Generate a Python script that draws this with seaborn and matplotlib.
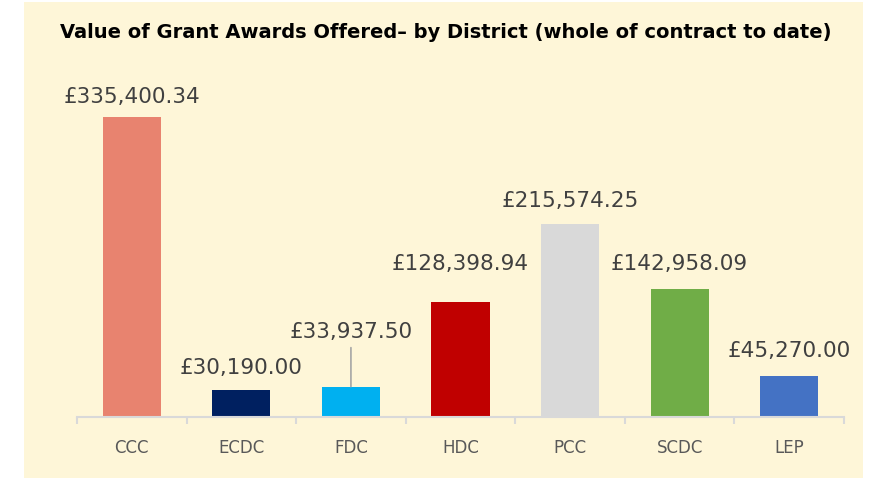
import numpy as np
import pandas as pd
import matplotlib
matplotlib.use("Agg")
import matplotlib.pyplot as plt
import seaborn as sb

districts = ["CCC", "ECDC", "FDC", "HDC", "PCC", "SCDC", "LEP"]
values = [335400.34, 30190.00, 33937.50, 128398.94, 215574.25, 142958.09, 45270.00]
bar_colours = ["#E8836F", "#002060", "#00B0F0", "#C00000", "#D9D9D9", "#70AD47", "#4472C4"]

df = pd.DataFrame({"district": districts, "value": values})

sb.set_style("white")
plt.rcParams["font.family"] = ["DejaVu Sans"]

bg = "#FEF6D8"
fig = plt.figure(figsize=(8.79, 4.8), dpi=100)
fig.patch.set_facecolor("white")

# beige chart area
bg_ax = fig.add_axes([24 / 879, 2 / 480, 839 / 879, 476 / 480])
bg_ax.set_facecolor(bg)
bg_ax.set_xticks([])
bg_ax.set_yticks([])
for s in bg_ax.spines.values():
    s.set_visible(False)

ax = fig.add_axes([77 / 879, 63 / 480, 767 / 879, 358 / 480])
ax.set_facecolor("none")
sb.barplot(data=df, x="district", y="value", hue="district", palette=bar_colours,
           width=0.53, legend=False, ax=ax, saturation=1, linewidth=0)

ax.set_ylim(0, 400000)
ax.set_xlim(-0.5, len(districts) - 0.5)
ax.set_yticks([])
ax.set_xlabel("")
ax.set_ylabel("")
for s in ["top", "right", "left"]:
    ax.spines[s].set_visible(False)
ax.spines["bottom"].set_color("#D9D9D9")
ax.spines["bottom"].set_linewidth(1.5)

# ticks at category boundaries
ax.set_xticks(np.arange(len(districts) + 1) - 0.5, minor=True)
ax.tick_params(axis="x", which="minor", length=5, width=1.5, color="#D9D9D9", bottom=True)
ax.tick_params(axis="x", which="major", length=0, pad=16, labelsize=12, labelcolor="#595959")

# value labels (pixels above bar top; FDC and HDC were dragged up in the original)
label_offsets = [20, 22, 55, 38, 23, 25, 25]
for i, (v, off) in enumerate(zip(values, label_offsets)):
    ax.annotate(f"£{v:,.2f}", xy=(i, v), xytext=(0, off * 0.72), textcoords="offset points",
                ha="center", va="center", fontsize=15.5, color="#404040")
# leader line for FDC
ax.annotate("", xy=(2, values[2]), xytext=(0, 39 * 0.72), textcoords="offset points",
            arrowprops=dict(arrowstyle="-", color="#A6A6A6", lw=1.2, shrinkA=0, shrinkB=0))

fig.text(446 / 879, 1 - 32 / 480, "Value of Grant Awards Offered– by District (whole of contract to date)",
         ha="center", va="center", fontsize=14, fontweight="bold", color="black")

fig.savefig("out.png", dpi=100, facecolor="white")
